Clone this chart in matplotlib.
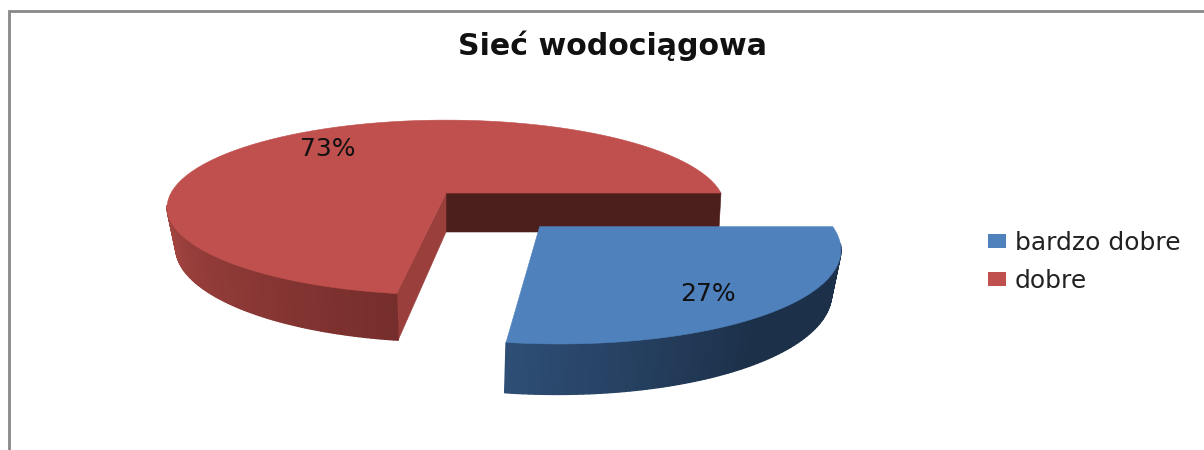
"""3-D exploded pie: Siec wodociagowa."""
import matplotlib
matplotlib.use("Agg")
import matplotlib.pyplot as plt
import numpy as np
from matplotlib.collections import PolyCollection
from matplotlib.colors import to_rgb
from matplotlib.patches import Patch

# --- data ---
TITLE = "Sieć wodociągowa"
CATEGORIES = ["bardzo dobre", "dobre"]
VALUES = [27.4, 72.6]
COLORS = ["#4F81BD", "#C0504D"]
TEXT_COLOR = "#111111"

# --- projection of the tilted disc onto the page (pixels) ---
CX, CY = 446, 193
RX, RY = 275, 85
PERSP = 0.166
HEIGHT = 39
TAPER_LEFT, TAPER_RIGHT = 0.032, 0.008
TAPER_BLUE = 0.024
EXPLODE = 0.49


def project(u, v, z=0.0, right=TAPER_RIGHT):
    u = np.asarray(u, dtype=float)
    w = 1 - PERSP * np.asarray(v)
    taper = np.where(u < 0, TAPER_LEFT, right)
    return CX + RX * u / (w * (1 + taper * z)), CY + (RY * v + HEIGHT * z) / w


def ring(start, end, z=0.0, du=0.0, dv=0.0, right=TAPER_RIGHT, n=90):
    t = np.radians(np.linspace(start, end, n))
    return project(du + np.cos(t), dv - np.sin(t), z, right)


def poly(ax, x, y, color, zorder):
    ax.fill(x, y, color=color, lw=0.4, zorder=zorder)


def side(ax, start, end, stops, du, dv, right, zorder):
    xt, yt = ring(start, end, 0, du, dv, right)
    xb, yb = ring(start, end, 1, du, dv, right)
    rgb = np.array([to_rgb(c) for c in stops[1]])
    quads, cols = [], []
    for i in range(len(xt) - 1):
        quads.append([(xt[i], yt[i]), (xt[i + 1], yt[i + 1]), (xb[i + 1], yb[i + 1]), (xb[i], yb[i])])
        f = i / (len(xt) - 2)
        cols.append([np.interp(f, stops[0], rgb[:, k]) for k in range(3)])
    ax.add_collection(PolyCollection(quads, facecolors=cols, edgecolors=cols, linewidths=1.0, zorder=zorder))


fig = plt.figure(figsize=(12.04, 4.5), dpi=100)
ax = fig.add_axes([0, 0, 1, 1])
ax.set_xlim(0, 1204)
ax.set_ylim(450, 0)
ax.axis("off")

# chart frame, only top and left survive in the crop
ax.plot([9, 9, 1204], [450, 10.5, 10.5], color="#888888", lw=2.0, solid_joinstyle="miter", zorder=1)

blue_deg = 360 * VALUES[0] / sum(VALUES)
red_end = 360 - blue_deg

# red slice, from 3 o'clock counter-clockwise
a = np.radians(red_end)
x0, y0 = project(0.0, 0.0)
x0b, y0b = project(0.0, 0.0, 1)
xa, ya = project(1.0, 0.0)
xab, yab = project(1.0, 0.0, 1)
xe, ye = project(np.cos(a), -np.sin(a))
xeb, yeb = project(np.cos(a), -np.sin(a), 1)
poly(ax, [x0, xa, xab, x0b], [y0, ya, yab, y0b], "#4C1F1D", 3)
poly(ax, [x0, xe, xeb, x0b], [y0, ye, yeb, y0b], "#9A3F3C", 3)
side(ax, 188, red_end, ([0, 0.35, 1], ["#AB4A45", "#953D3A", "#762E2C"]), 0, 0, TAPER_RIGHT, 4)
xr, yr = ring(0, red_end)
poly(ax, np.r_[x0, xr], np.r_[y0, yr], COLORS[1], 5)

# blue slice, pushed out along its bisector
mid = np.radians(red_end + blue_deg / 2)
du, dv = EXPLODE * np.cos(mid), -EXPLODE * np.sin(mid)
side(ax, red_end, 350, ([0, 0.5, 1], ["#2E4E75", "#1C3049", "#1C3049"]), du, dv, TAPER_BLUE, 6)
xb, yb = ring(red_end, 360, 0, du, dv)
xc, yc = project(du, dv)
poly(ax, np.r_[xc, xb], np.r_[yc, yb], COLORS[0], 7)

# percent labels
LABEL_R = [0.78, 0.72]
blue_label = mid - np.radians(3)
lx, ly = project(du + LABEL_R[0] * np.cos(blue_label), dv - LABEL_R[0] * np.sin(blue_label))
ax.text(lx, ly, f"{VALUES[0]:.0f}%", ha="center", va="center", fontsize=18, color=TEXT_COLOR, zorder=8)
m2 = np.radians(red_end / 2)
lx, ly = project(LABEL_R[1] * np.cos(m2), -LABEL_R[1] * np.sin(m2))
ax.text(lx, ly - 1, f"{VALUES[1]:.0f}%", ha="center", va="center", fontsize=18, color=TEXT_COLOR, zorder=8)

ax.text(613, 46, TITLE, ha="center", va="center", fontsize=21.6, fontweight="bold", color=TEXT_COLOR, zorder=8)

handles = [Patch(facecolor=c, edgecolor="none", label=n) for c, n in zip(COLORS, CATEGORIES)]
ax.legend(handles=handles, loc="center left", bbox_to_anchor=(988, 262), bbox_transform=ax.transData,
          frameon=False, fontsize=18, labelcolor="#222222", handlelength=0.72, handleheight=0.5,
          handletextpad=0.36, labelspacing=0.55, borderaxespad=0, borderpad=0)

fig.savefig("out.png", dpi=100)
